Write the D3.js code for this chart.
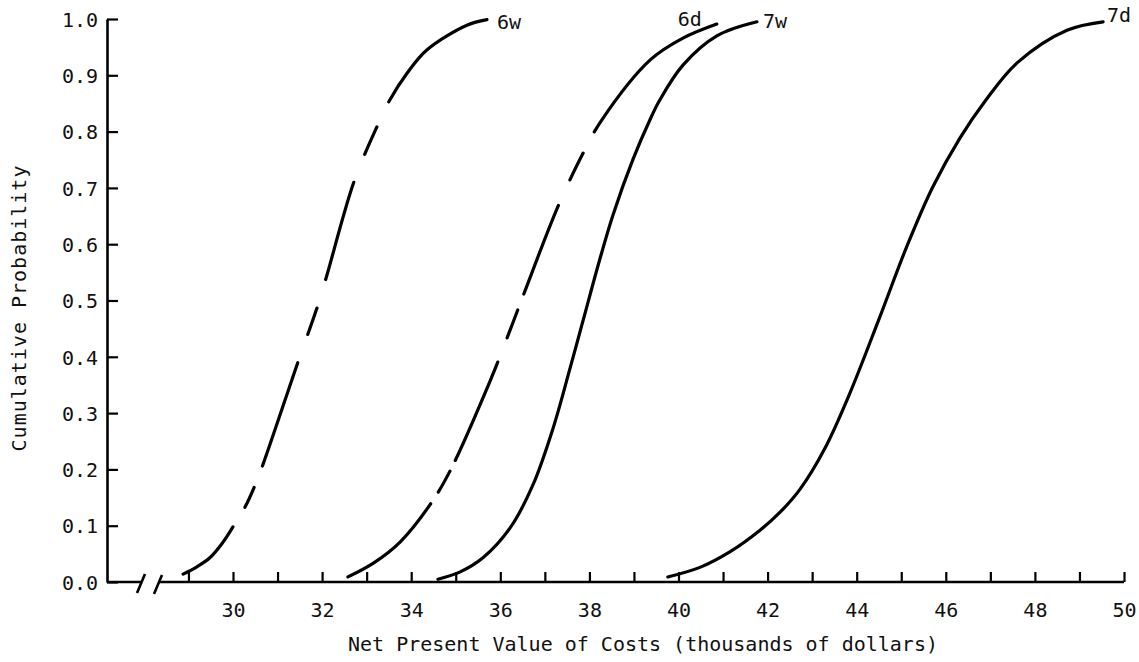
<!DOCTYPE html>
<html>
<head>
<meta charset="utf-8">
<script src="https://cdn.jsdelivr.net/npm/d3@7"></script>
<style>
  body { margin: 0; background: #fff; }
  svg text { font-family: "DejaVu Sans Mono", monospace; fill: #111; }
</style>
</head>
<body>
<svg width="1139" height="662"></svg>
<script>
// values
// cost in thousands of dollars, cumulative probability 0..1
var cost6w = [28.88, 29.19, 29.48, 29.75, 30.00, 30.27, 30.49, 30.67, 31.46, 31.89, 32.09, 32.72, 33.25, 33.52, 33.91, 34.35, 35.25, 35.70];
var prob6w = [0.014, 0.027, 0.043, 0.068, 0.098, 0.133, 0.171, 0.208, 0.391, 0.488, 0.540, 0.712, 0.812, 0.856, 0.904, 0.945, 0.989, 0.999];

var cost6d = [32.58, 33.16, 33.75, 34.42, 34.87, 35.77, 36.15, 36.53, 37.30, 37.86, 38.28, 39.36, 40.10, 40.86];
var prob6d = [0.009, 0.034, 0.071, 0.137, 0.197, 0.357, 0.433, 0.512, 0.668, 0.762, 0.821, 0.927, 0.966, 0.991];

var cost7w = [34.60, 35.10, 35.61, 36.22, 36.73, 37.18, 37.56, 37.86, 38.24, 38.53, 38.98, 39.36, 39.58, 40.10, 40.86, 41.76];
var prob7w = [0.005, 0.018, 0.043, 0.096, 0.172, 0.272, 0.378, 0.465, 0.575, 0.652, 0.751, 0.821, 0.856, 0.918, 0.970, 0.995];

var cost7d = [39.76, 40.48, 41.16, 41.83, 42.28, 42.73, 43.29, 43.85, 44.52, 45.13, 45.71, 46.32, 46.88, 47.60, 48.72, 49.53];
var prob7d = [0.009, 0.026, 0.054, 0.092, 0.124, 0.165, 0.238, 0.336, 0.471, 0.597, 0.702, 0.789, 0.854, 0.922, 0.980, 0.995];

var seriesNames = ["6w", "6d", "7w", "7d"];
var costTicks = d3.range(29, 51);
var probTicks = d3.range(0, 11).map(function(i) { return i / 10; });

// styles (dash lengths follow the broken strokes of the original)
var dashes = {
  "6w": "70,23,22,23,109,30,28,30,101,30,30,28,1000",
  "6d": "112,14,24,12,107,26,30,17,95,28,30,24,1000",
  "7w": null,
  "7d": null
};
var labelOffset = {
  "6w": [10, 9, "start"],
  "6d": [-15, 2, "end"],
  "7w": [6, 6, "start"],
  "7d": [4, 0, "start"]
};

var svg = d3.select("svg");
svg.append("rect").attr("width", 1139).attr("height", 662).attr("fill", "#fff");

var x = d3.scaleLinear().domain([30, 50]).range([233, 1124]);
var y = d3.scaleLinear().domain([0, 1]).range([582, 19]);
var axisX0 = 107;

// y axis, ticks point into the plot
var yAxis = svg.append("g")
    .attr("transform", "translate(" + axisX0 + ",0)")
    .call(d3.axisLeft(y)
      .tickValues(probTicks)
      .tickFormat(d3.format(".1f"))
      .tickSizeInner(-11)
      .tickSizeOuter(0)
      .tickPadding(9));
yAxis.select(".domain").attr("stroke", "#000").attr("stroke-width", 2.6);
yAxis.selectAll(".tick line").attr("stroke", "#000").attr("stroke-width", 2.2);
yAxis.selectAll(".tick text")
    .attr("font-family", "DejaVu Sans Mono")
    .attr("font-size", 20)
    .attr("dy", "0.36em");

// x axis
var xAxis = svg.append("g")
    .attr("transform", "translate(0," + y(0) + ")")
    .call(d3.axisBottom(x)
      .tickValues(costTicks)
      .tickFormat(function(d) { return (d >= 30 && d % 2 === 0) ? d : ""; })
      .tickSizeInner(-10)
      .tickSizeOuter(0)
      .tickPadding(21));
xAxis.select(".domain").remove();
xAxis.selectAll(".tick line").attr("stroke", "#000").attr("stroke-width", 2.2);
xAxis.selectAll(".tick text")
    .attr("font-family", "DejaVu Sans Mono")
    .attr("font-size", 20);

// axis line with the break marks
var axisG = svg.append("g").attr("stroke", "#000").attr("stroke-width", 2.6).attr("fill", "none");
axisG.append("line").attr("x1", axisX0).attr("x2", 141).attr("y1", y(0)).attr("y2", y(0));
axisG.append("line").attr("x1", 158).attr("x2", x(50)).attr("y1", y(0)).attr("y2", y(0));
axisG.append("line").attr("x1", 137).attr("y1", y(0) + 11).attr("x2", 145).attr("y2", y(0) - 8);
axisG.append("line").attr("x1", 154).attr("y1", y(0) + 12).attr("x2", 162).attr("y2", y(0) - 7);

// curves
var costs = { "6w": cost6w, "6d": cost6d, "7w": cost7w, "7d": cost7d };
var probs = { "6w": prob6w, "6d": prob6d, "7w": prob7w, "7d": prob7d };

var series = seriesNames.map(function(name) {
  return {
    name: name,
    points: costs[name].map(function(c, i) { return [c, probs[name][i]]; })
  };
});

var line = d3.line()
    .x(function(d) { return x(d[0]); })
    .y(function(d) { return y(d[1]); })
    .curve(d3.curveCatmullRom.alpha(0.5));

svg.append("g").selectAll("path")
  .data(series)
  .enter().append("path")
    .attr("d", function(d) { return line(d.points); })
    .attr("fill", "none")
    .attr("stroke", "#000")
    .attr("stroke-width", 3.2)
    .attr("stroke-linecap", "round")
    .attr("stroke-dasharray", function(d) { return dashes[d.name]; });

svg.append("g").selectAll("text")
  .data(series)
  .enter().append("text")
    .attr("x", function(d) { var p = d.points[d.points.length - 1]; return x(p[0]) + labelOffset[d.name][0]; })
    .attr("y", function(d) { var p = d.points[d.points.length - 1]; return y(p[1]) + labelOffset[d.name][1]; })
    .attr("text-anchor", function(d) { return labelOffset[d.name][2]; })
    .attr("font-size", 20)
    .text(function(d) { return d.name; });

// axis titles
svg.append("text")
    .attr("x", 643)
    .attr("y", 651)
    .attr("text-anchor", "middle")
    .attr("font-size", 20)
    .text("Net Present Value of Costs (thousands of dollars)");

svg.append("text")
    .attr("transform", "translate(26,308) rotate(-90)")
    .attr("text-anchor", "middle")
    .attr("font-size", 20)
    .attr("letter-spacing", 1)
    .text("Cumulative Probability");
</script>
</body>
</html>
